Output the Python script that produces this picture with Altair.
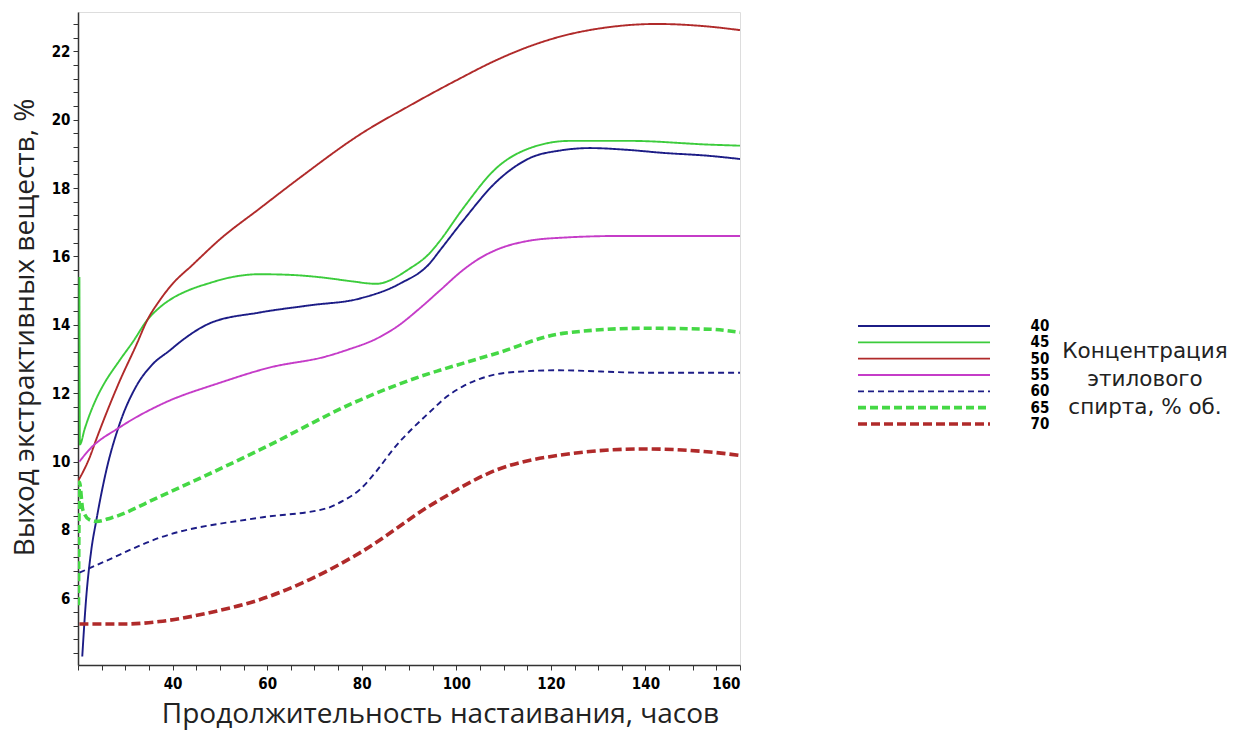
import altair as alt
import pandas as pd

# ---- data ----
series = ["40", "45", "50", "55", "60", "65", "70"]

x40 = [20.9, 21.7, 22.8, 23.9, 26.0, 28.8, 32.3, 35.8, 39.4, 41.6, 47.8, 58.4, 69.0, 79.6, 88.0, 94.4, 96.5, 101.4, 108.6, 115.6, 122.0, 128.3, 136.0, 143.7, 153.7, 160.0]
y40 = [4.3, 5.96, 7.4, 8.3, 9.75, 11.1, 12.2, 12.85, 13.25, 13.5, 14.04, 14.36, 14.57, 14.77, 15.2, 15.8, 16.17, 17.04, 18.2, 18.88, 19.1, 19.17, 19.12, 19.03, 18.94, 18.85]

x45 = [20.3, 20.4, 21.4, 22.4, 23.9, 25.2, 28.8, 31.6, 34.7, 37.2, 40.0, 43.2, 47.8, 52.0, 58.4, 65.0, 72.0, 78.0, 83.0, 90.2, 94.4, 96.5, 101.4, 108.6, 115.6, 124.0, 136.7, 153.7, 160.0]
y45 = [15.4, 10.5, 10.95, 11.35, 11.85, 12.2, 12.96, 13.5, 14.15, 14.5, 14.78, 15.0, 15.22, 15.38, 15.48, 15.46, 15.38, 15.27, 15.2, 15.65, 16.1, 16.45, 17.4, 18.6, 19.17, 19.38, 19.38, 19.27, 19.24]

x50 = [19.9, 22.4, 24.0, 28.8, 32.3, 34.7, 37.2, 40.0, 44.2, 50.0, 58.4, 66.9, 80.0, 90.0, 100.0, 108.6, 115.0, 122.5, 131.9, 142.4, 153.7, 160.0]
y50 = [9.4, 10.1, 10.7, 12.35, 13.4, 14.15, 14.7, 15.2, 15.75, 16.5, 17.4, 18.3, 19.6, 20.4, 21.15, 21.75, 22.12, 22.45, 22.7, 22.8, 22.72, 22.62]

x55 = [20.3, 22.4, 28.8, 38.0, 49.9, 60.5, 72.6, 77.0, 83.2, 88.0, 92.0, 96.5, 101.4, 105.0, 108.6, 115.0, 122.5, 135.0, 160.0]
y55 = [10.0, 10.35, 11.0, 11.7, 12.3, 12.75, 13.08, 13.27, 13.6, 14.0, 14.45, 15.0, 15.6, 15.95, 16.2, 16.45, 16.55, 16.6, 16.6]

x60 = [20.3, 25.2, 37.2, 58.4, 72.5, 76.0, 79.6, 83.0, 86.6, 94.4, 98.0, 101.4, 105.0, 110.7, 121.3, 140.0, 160.0]
y60 = [6.75, 7.05, 7.77, 8.36, 8.63, 8.85, 9.18, 9.7, 10.35, 11.45, 11.9, 12.2, 12.42, 12.6, 12.67, 12.6, 12.6]

x65 = [20.1, 20.3, 21.0, 22.4, 23.9, 27.0, 37.2, 58.4, 79.6, 94.4, 96.5, 108.6, 122.5, 139.5, 153.7, 160.0]
y65 = [5.8, 9.4, 8.6, 8.3, 8.25, 8.35, 8.97, 10.34, 11.8, 12.58, 12.67, 13.17, 13.75, 13.9, 13.87, 13.78]

x70 = [20.3, 30.0, 37.2, 47.8, 58.4, 69.0, 79.6, 95.5, 108.6, 122.5, 139.5, 153.7, 160.0]
y70 = [5.25, 5.25, 5.32, 5.58, 5.96, 6.55, 7.33, 8.8, 9.76, 10.2, 10.37, 10.28, 10.18]

x_major = [40, 60, 80, 100, 120, 140, 160]
y_major = [6, 8, 10, 12, 14, 16, 18, 20, 22]

x_title = "Продолжительность настаивания, часов"
y_title = "Выход экстрактивных веществ, %"
legend_title = "Концентрация\nэтилового\nспирта, % об."

# ---- build table ----
xs_all = [x40, x45, x50, x55, x60, x65, x70]
ys_all = [y40, y45, y50, y55, y60, y65, y70]
rows = []
for s, xs, ys in zip(series, xs_all, ys_all):
    for i, (a, b) in enumerate(zip(xs, ys)):
        rows.append({"series": s, "t": a, "v": b, "i": i})
df = pd.DataFrame(rows)
leg = pd.DataFrame({"series": series, "label": series})

colors = ["#1c1c86", "#3ccc3c", "#b02a2a", "#c53cc8", "#1c1c86", "#45d845", "#b02a2a"]
dashes = [[1, 0], [1, 0], [1, 0], [1, 0], [6, 4], [8, 4], [9, 4]]

color_enc = alt.Color("series:N", scale=alt.Scale(domain=series, range=colors), legend=None)
dash_enc = alt.StrokeDash("series:N", scale=alt.Scale(domain=series, range=dashes), legend=None)
width_enc = alt.condition(
    alt.FieldOneOfPredicate(field="series", oneOf=["65", "70"]), alt.value(3.6), alt.value(1.9)
)

x_minor = [20 + 5 * k for k in range(29)]
y_minor = [round(4.4 + 0.4 * k, 1) for k in range(48)]

num_font = "DejaVu Sans Condensed, Liberation Sans Narrow, sans-serif"
major_x = " || ".join(f"datum.value == {v}" for v in x_major)
major_y = " || ".join(f"datum.value == {v}" for v in y_major)

lines = alt.Chart(df).mark_line(interpolate="monotone", clip=True).encode(
    x=alt.X(
        "t:Q",
        scale=alt.Scale(domain=[20, 160], nice=False, zero=False),
        axis=alt.Axis(
            values=x_minor,
            labelExpr=f"({major_x}) ? format(datum.value, 'd') : ''",
            labelOverlap=False,
            labelFont=num_font,
            labelFontSize=15,
            labelFontWeight="bold",
            labelColor="black",
            labelPadding=6,
            tickSize=5,
            tickColor="#333",
            domainColor="#333",
            domainWidth=1.5,
            grid=False,
            title=x_title,
            titleFont="Open Sans",
            titleFontSize=28,
            titleFontWeight="normal",
            titleColor="#222",
            titleX=362,
            titleY=49,
            titleBaseline="middle",
        ),
    ),
    y=alt.Y(
        "v:Q",
        scale=alt.Scale(domain=[4.05, 23.15], nice=False, zero=False),
        axis=alt.Axis(
            values=y_minor,
            labelExpr=f"({major_y}) ? format(datum.value, 'd') : ''",
            labelOverlap=False,
            labelFont=num_font,
            labelFontSize=15,
            labelFontWeight="bold",
            labelColor="black",
            labelPadding=3,
            tickSize=5,
            tickColor="#333",
            domainColor="#333",
            domainWidth=1.5,
            grid=False,
            title=y_title,
            titleFont="Open Sans",
            titleFontSize=28,
            titleFontWeight="normal",
            titleColor="#222",
            titleX=-53,
            titleY=315,
            titleBaseline="middle",
        ),
    ),
    color=color_enc,
    strokeDash=dash_enc,
    strokeWidth=width_enc,
    order="i:Q",
)

leg_y = alt.Y(
    "series:N",
    scale=alt.Scale(type="point", domain=series, range=[314, 412], padding=0),
    axis=None,
)

leg_lines = alt.Chart(leg).mark_rule().encode(
    x=alt.value(780),
    x2=alt.value(912),
    y=leg_y,
    color=color_enc,
    strokeDash=dash_enc,
    strokeWidth=width_enc,
)

leg_labels = alt.Chart(leg).mark_text(
    font=num_font, fontSize=15, fontWeight="bold", color="black", align="center", baseline="middle"
).encode(x=alt.value(962), y=leg_y, text="label:N")

leg_title = alt.Chart(pd.DataFrame({"txt": [legend_title]})).mark_text(
    font="DejaVu Sans", fontSize=21.5, color="#222", align="center", baseline="middle",
    lineBreak="\n", lineHeight=28,
).encode(x=alt.value(1067), y=alt.value(340), text="txt:N")

chart = (
    alt.layer(lines, leg_lines, leg_labels, leg_title)
    .resolve_scale(y="independent")
    .properties(
        width=662,
        height=653,
        autosize=alt.AutoSizeParams(type="none"),
        padding={"left": 78, "top": 12, "right": 506, "bottom": 68},
    )
    .configure_view(stroke=None)
    .configure(background="white")
)

chart.save("out.html", embed_options={"renderer": "svg", "actions": False})
